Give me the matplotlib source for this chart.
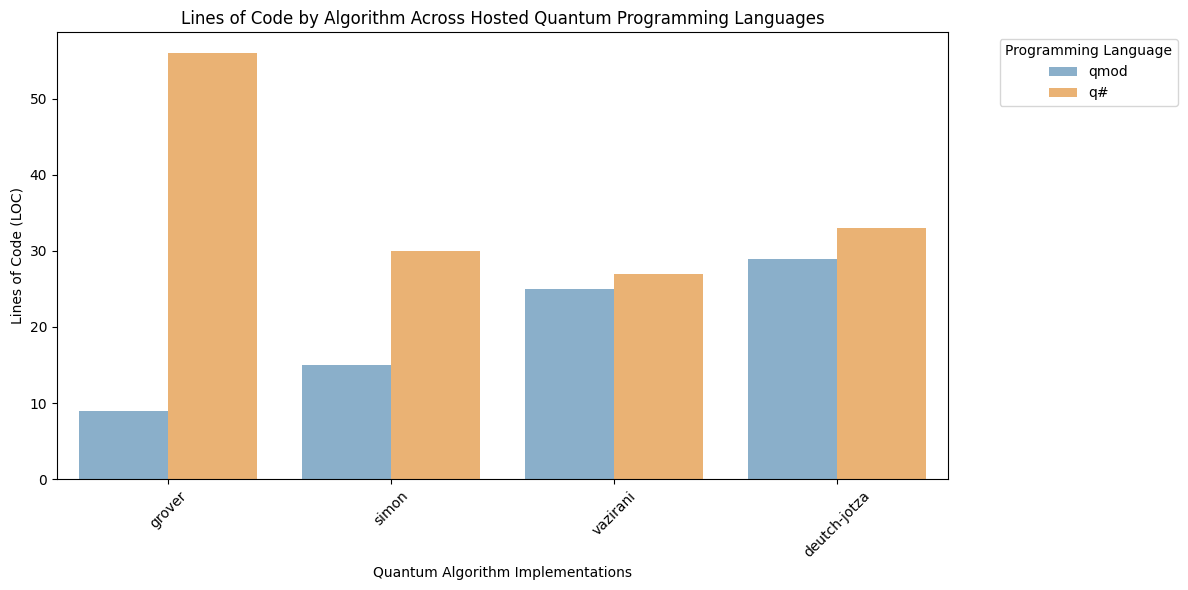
import numpy as np
import matplotlib
matplotlib.use("Agg")
import matplotlib.pyplot as plt

algorithms = ["grover", "simon", "vazirani", "deutch-jotza"]
languages = ["qmod", "q#"]
loc_qmod = [9, 15, 25, 29]
loc_qsharp = [56, 30, 27, 33]
colors = ["#8aafca", "#eab274"]


def main():
    fig, ax = plt.subplots(figsize=(11.88, 5.9), dpi=100)

    x = np.arange(len(algorithms))
    width = 0.4
    ax.bar(x - width / 2, loc_qmod, width, color=colors[0], label=languages[0])
    ax.bar(x + width / 2, loc_qsharp, width, color=colors[1], label=languages[1])

    ax.set_xticks(x)
    ax.set_xticklabels(algorithms, rotation=45)
    ax.set_xlim(-0.5, len(algorithms) - 0.5)
    ax.set_title("Lines of Code by Algorithm Across Hosted Quantum Programming Languages")
    ax.set_xlabel("Quantum Algorithm Implementations")
    ax.set_ylabel("Lines of Code (LOC)")
    ax.legend(title="Programming Language", bbox_to_anchor=(1.05, 1), loc="upper left")

    fig.subplots_adjust(left=0.048, right=0.798, top=0.946, bottom=0.188)
    fig.savefig("out.png", dpi=100)


if __name__ == "__main__":
    main()
